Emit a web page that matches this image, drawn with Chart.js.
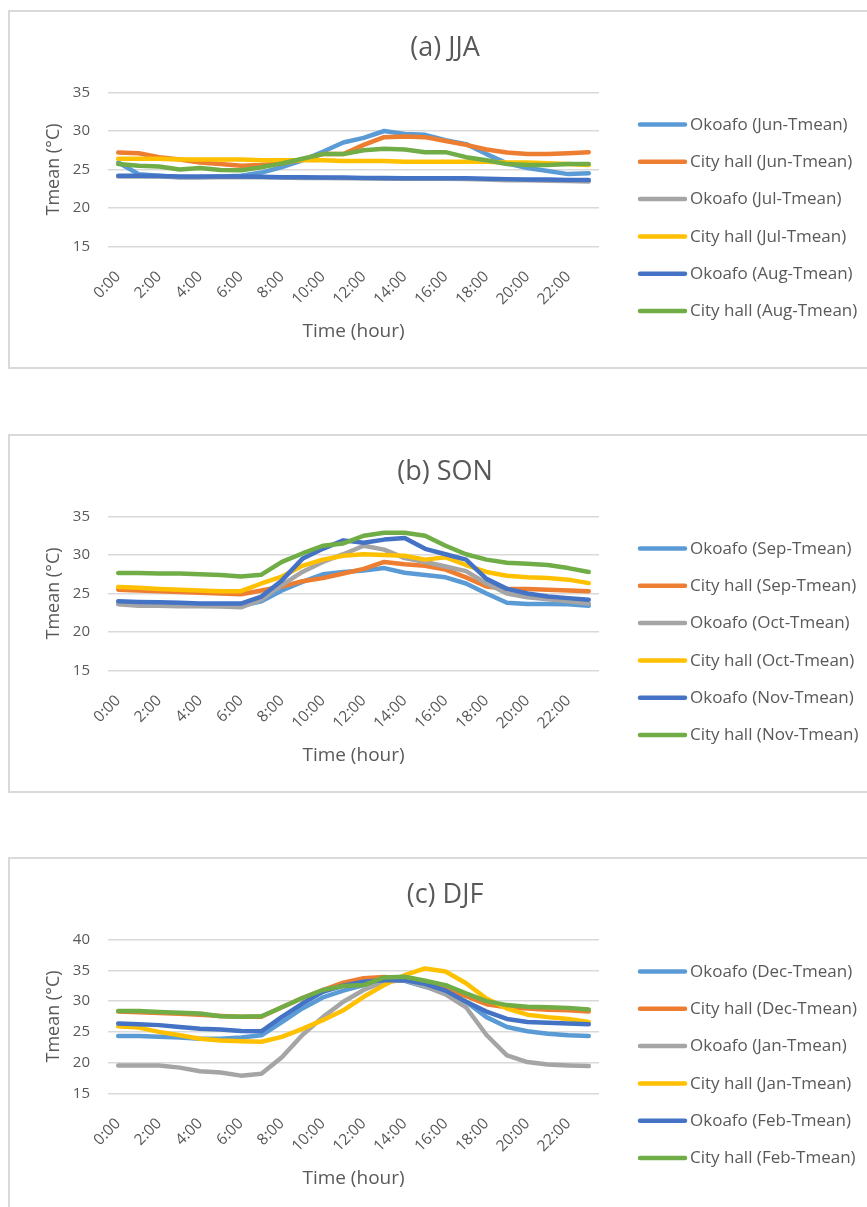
<!DOCTYPE html>
<html>
<head>
<meta charset="utf-8">
<script src="https://cdn.jsdelivr.net/npm/chart.js@4.4.1/dist/chart.umd.min.js"></script>
<style>
  html, body { margin: 0; padding: 0; background: #ffffff; overflow: hidden; }
  body { width: 867px; height: 1207px; position: relative; }
  .frame { position: absolute; left: 8px; width: 900px; height: 359px; box-sizing: border-box;
           border: 2px solid #d9d9d9; background: #ffffff; }
  canvas { position: absolute; left: 0; }
</style>
</head>
<body>
<div class="frame" style="top:10px"></div>
<div class="frame" style="top:434px"></div>
<div class="frame" style="top:857px"></div>
<canvas id="jja" width="890" height="359" style="top:10px"></canvas>
<canvas id="son" width="890" height="359" style="top:434px"></canvas>
<canvas id="djf" width="890" height="359" style="top:857px"></canvas>
<script>
// Hourly mean temperature (°C), 0:00 – 23:00
const hours = ['0:00','1:00','2:00','3:00','4:00','5:00','6:00','7:00','8:00','9:00','10:00','11:00',
               '12:00','13:00','14:00','15:00','16:00','17:00','18:00','19:00','20:00','21:00','22:00','23:00'];

// (a) JJA
const okoafoJun = [25.9, 24.4, 24.2, 24.0, 24.0, 24.1, 24.2, 24.6, 25.3, 26.2, 27.3, 28.5, 29.1, 30.0, 29.6, 29.5, 28.8, 28.3, 27.0, 25.8, 25.2, 24.8, 24.4, 24.5];
const cityJun   = [27.2, 27.1, 26.6, 26.3, 25.9, 25.7, 25.5, 25.6, 25.8, 26.3, 27.0, 27.0, 28.2, 29.2, 29.3, 29.2, 28.7, 28.2, 27.6, 27.2, 27.0, 27.0, 27.1, 27.25];
const okoafoJul = [24.1, 24.1, 24.1, 24.0, 24.0, 24.0, 24.0, 24.0, 23.95, 23.9, 23.9, 23.85, 23.85, 23.8, 23.8, 23.8, 23.8, 23.75, 23.7, 23.6, 23.6, 23.55, 23.5, 23.45];
const cityJul   = [26.4, 26.4, 26.4, 26.3, 26.3, 26.3, 26.3, 26.2, 26.2, 26.2, 26.2, 26.1, 26.1, 26.1, 26.0, 26.0, 26.0, 26.0, 26.0, 25.9, 25.9, 25.8, 25.7, 25.6];
const okoafoAug = [24.2, 24.2, 24.15, 24.1, 24.1, 24.1, 24.1, 24.05, 24.0, 24.0, 23.95, 23.95, 23.9, 23.9, 23.85, 23.85, 23.85, 23.85, 23.8, 23.75, 23.7, 23.7, 23.65, 23.65];
const cityAug   = [25.7, 25.5, 25.4, 25.0, 25.2, 24.95, 24.9, 25.3, 25.8, 26.4, 27.0, 27.0, 27.5, 27.7, 27.6, 27.25, 27.25, 26.6, 26.2, 25.7, 25.6, 25.6, 25.7, 25.7];

// (b) SON
const okoafoSep = [23.7, 23.6, 23.6, 23.5, 23.5, 23.5, 23.4, 24.0, 25.4, 26.5, 27.5, 27.8, 28.0, 28.3, 27.7, 27.4, 27.1, 26.3, 25.0, 23.8, 23.65, 23.65, 23.6, 23.4];
const citySep   = [25.5, 25.4, 25.3, 25.2, 25.1, 25.0, 24.9, 25.4, 25.9, 26.6, 27.0, 27.6, 28.2, 29.1, 28.8, 28.6, 28.1, 27.1, 25.9, 25.6, 25.6, 25.5, 25.4, 25.3];
const okoafoOct = [23.6, 23.4, 23.4, 23.35, 23.35, 23.3, 23.2, 24.2, 26.1, 27.8, 29.1, 30.1, 31.2, 30.7, 29.6, 29.1, 28.5, 27.9, 26.3, 25.0, 24.5, 24.25, 24.0, 23.7];
const cityOct   = [25.85, 25.75, 25.6, 25.5, 25.4, 25.3, 25.3, 26.3, 27.2, 28.6, 29.4, 29.9, 30.1, 30.0, 29.9, 29.4, 29.7, 28.7, 27.8, 27.3, 27.1, 27.0, 26.8, 26.35];
const okoafoNov = [24.0, 23.9, 23.85, 23.8, 23.7, 23.7, 23.7, 24.6, 26.7, 29.5, 30.8, 31.9, 31.6, 32.0, 32.2, 30.8, 30.1, 29.4, 26.9, 25.6, 25.0, 24.6, 24.4, 24.2];
const cityNov   = [27.65, 27.65, 27.6, 27.6, 27.5, 27.4, 27.2, 27.45, 29.1, 30.2, 31.2, 31.5, 32.5, 32.9, 32.9, 32.5, 31.2, 30.1, 29.4, 29.0, 28.85, 28.7, 28.3, 27.8];

// (c) DJF
const okoafoDec = [24.35, 24.35, 24.2, 24.1, 23.9, 23.9, 24.1, 24.45, 26.6, 28.8, 30.6, 31.7, 32.6, 33.4, 33.3, 32.3, 31.5, 29.9, 27.4, 25.8, 25.1, 24.7, 24.45, 24.35];
const cityDec   = [28.3, 28.2, 28.05, 27.95, 27.8, 27.6, 27.45, 27.45, 29.0, 30.5, 31.8, 33.0, 33.7, 33.9, 33.5, 32.8, 32.0, 30.8, 29.5, 29.0, 28.8, 28.6, 28.5, 28.3];
const okoafoJan = [19.55, 19.55, 19.55, 19.2, 18.6, 18.4, 17.9, 18.2, 20.9, 24.5, 27.4, 29.9, 31.8, 33.15, 33.4, 32.4, 31.1, 29.0, 24.5, 21.2, 20.1, 19.7, 19.55, 19.45];
const cityJan   = [25.9, 25.7, 25.0, 24.45, 23.9, 23.6, 23.5, 23.4, 24.2, 25.5, 26.9, 28.5, 30.7, 32.6, 34.2, 35.3, 34.8, 32.9, 30.4, 28.8, 27.8, 27.4, 27.1, 26.6];
const okoafoFeb = [26.35, 26.25, 26.1, 25.8, 25.5, 25.4, 25.15, 25.1, 27.45, 29.6, 31.5, 32.5, 33.15, 33.4, 33.4, 32.8, 31.7, 29.9, 28.3, 27.1, 26.6, 26.5, 26.35, 26.25];
const cityFeb   = [28.4, 28.4, 28.25, 28.1, 28.0, 27.55, 27.45, 27.55, 29.0, 30.5, 31.8, 32.45, 32.6, 33.85, 33.95, 33.3, 32.6, 31.25, 30.0, 29.35, 29.1, 29.0, 28.9, 28.65];

// Axis ranges
const yRangeJJA = [15, 35];
const yRangeSON = [15, 35];
const yRangeDJF = [15, 40];

// Office palette, one colour per series slot
const seriesColors = ['#5B9BD5', '#ED7D31', '#A5A5A5', '#FFC000', '#4472C4', '#70AD47'];
const textColor = '#595959';
const fontFamily = '"Open Sans", "Noto Sans", sans-serif';

// Title and right-hand legend drawn onto each panel
const panelDecor = {
  id: 'panelDecor',
  afterDraw(chart, args, opts) {
    const ctx = chart.ctx;
    ctx.save();
    ctx.fillStyle = textColor;
    ctx.textAlign = 'center';
    ctx.textBaseline = 'middle';
    ctx.font = `${opts.titleSize}px ${fontFamily}`;
    ctx.fillText(opts.title, opts.titleX, opts.titleY);

    ctx.font = `${opts.legendSize}px ${fontFamily}`;
    ctx.textAlign = 'left';
    chart.data.datasets.forEach((ds, i) => {
      const y = opts.legendTop + i * opts.legendGap;
      ctx.strokeStyle = ds.borderColor;
      ctx.lineWidth = 4.5;
      ctx.lineCap = 'round';
      ctx.beginPath();
      ctx.moveTo(opts.legendX + 2, y);
      ctx.lineTo(opts.legendX + opts.legendLine - 2, y);
      ctx.stroke();
      ctx.fillStyle = textColor;
      ctx.fillText(ds.label, opts.legendX + opts.legendLine + 3, y + 0.5);
    });
    ctx.restore();
  }
};

function buildPanel(canvasId, title, names, series, yRange) {
  const datasets = series.map((values, i) => ({
    label: names[i],
    data: values,
    borderColor: seriesColors[i],
    backgroundColor: seriesColors[i],
    borderWidth: 4.5,
    borderCapStyle: 'round',
    borderJoinStyle: 'round',
    pointRadius: 0,
    tension: 0,
    fill: false,
    order: series.length - i   // later series are painted on top
  }));

  return new Chart(document.getElementById(canvasId), {
    type: 'line',
    data: { labels: hours, datasets },
    plugins: [panelDecor],
    options: {
      responsive: false,
      animation: false,
      devicePixelRatio: 1,
      layout: { padding: { left: 0, right: 291, top: 82.5, bottom: 0 } },
      plugins: {
        legend: { display: false },
        title: { display: false },
        tooltip: { enabled: false },
        panelDecor: {
          title, titleX: 445, titleY: 38, titleSize: 27,
          legendX: 638, legendTop: 114.5, legendGap: 37.3, legendLine: 49, legendSize: 17
        }
      },
      scales: {
        x: {
          type: 'category',
          offset: true,
          grid: { display: false, drawTicks: false },
          border: { display: false },
          ticks: {
            autoSkip: false,
            maxRotation: 45,
            minRotation: 45,
            padding: 21,
            color: textColor,
            font: { family: fontFamily, size: 15.5 },
            callback: function (value, index) {
              return index % 2 === 0 ? this.getLabelForValue(value) : '';
            }
          },
          title: {
            display: true,
            text: 'Time (hour)',
            color: textColor,
            font: { family: fontFamily, size: 19 },
            padding: { top: 0, bottom: 26 }
          },
          afterFit: (scale) => { scale.height = 122.5; }
        },
        y: {
          min: yRange[0],
          max: yRange[1],
          grid: { color: '#d9d9d9', lineWidth: 1.5, drawTicks: false },
          border: { display: false },
          ticks: {
            stepSize: 5,
            padding: 18,
            color: textColor,
            font: { family: fontFamily, size: 15 }
          },
          title: {
            display: true,
            text: 'Tmean (°C)',
            color: textColor,
            font: { family: fontFamily, size: 18 },
            padding: { top: 43, bottom: 0 }
          },
          afterFit: (scale) => { scale.width = 108; }
        }
      }
    }
  });
}

buildPanel('jja', '(a) JJA',
  ['Okoafo (Jun-Tmean)', 'City hall (Jun-Tmean)', 'Okoafo (Jul-Tmean)', 'City hall (Jul-Tmean)', 'Okoafo (Aug-Tmean)', 'City hall (Aug-Tmean)'],
  [okoafoJun, cityJun, okoafoJul, cityJul, okoafoAug, cityAug], yRangeJJA);

buildPanel('son', '(b) SON',
  ['Okoafo (Sep-Tmean)', 'City hall (Sep-Tmean)', 'Okoafo (Oct-Tmean)', 'City hall (Oct-Tmean)', 'Okoafo (Nov-Tmean)', 'City hall (Nov-Tmean)'],
  [okoafoSep, citySep, okoafoOct, cityOct, okoafoNov, cityNov], yRangeSON);

buildPanel('djf', '(c) DJF',
  ['Okoafo (Dec-Tmean)', 'City hall (Dec-Tmean)', 'Okoafo (Jan-Tmean)', 'City hall (Jan-Tmean)', 'Okoafo (Feb-Tmean)', 'City hall (Feb-Tmean)'],
  [okoafoDec, cityDec, okoafoJan, cityJan, okoafoFeb, cityFeb], yRangeDJF);
</script>
</body>
</html>
